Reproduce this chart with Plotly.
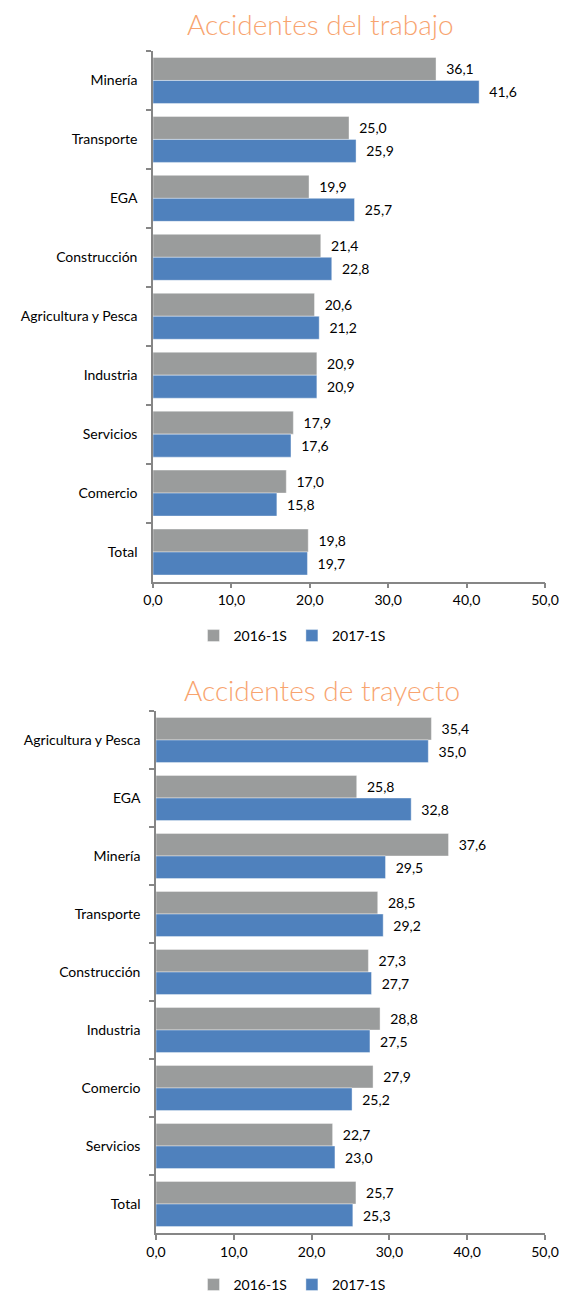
import plotly.graph_objects as go

# ---- data ----
cats_trabajo = ["Minería", "Transporte", "EGA", "Construcción", "Agricultura y Pesca",
                "Industria", "Servicios", "Comercio", "Total"]
trabajo_2016 = [36.1, 25.0, 19.9, 21.4, 20.6, 20.9, 17.9, 17.0, 19.8]
trabajo_2017 = [41.6, 25.9, 25.7, 22.8, 21.2, 20.9, 17.6, 15.8, 19.7]

cats_trayecto = ["Agricultura y Pesca", "EGA", "Minería", "Transporte", "Construcción",
                 "Industria", "Comercio", "Servicios", "Total"]
trayecto_2016 = [35.4, 25.8, 37.6, 28.5, 27.3, 28.8, 27.9, 22.7, 25.7]
trayecto_2017 = [35.0, 32.8, 29.5, 29.2, 27.7, 27.5, 25.2, 23.0, 25.3]

series_names = ["2016-1S", "2017-1S"]
x_ticks = [0, 10, 20, 30, 40, 50]
titles = ["Accidentes del trabajo", "Accidentes de trayecto"]

# ---- styles ----
W, H = 568, 1293
GREY = "#9A9C9C"
BLUE = "#4F81BD"
AXIS = "#868686"
FONT = "Lato"
TITLE_COLOR = "#F8A46F"

fig = go.Figure()

def add_pair(cats, v16, v17, xa, ya, legend):
    for name, vals, col in [(series_names[0], v16, GREY), (series_names[1], v17, BLUE)]:
        fig.add_trace(go.Bar(
            y=cats, x=vals, name=name, orientation="h",
            marker=dict(color=col, line=dict(color="rgba(255,255,255,0.5)", width=0.8)),
            texttemplate="\u00a0\u00a0%{x:.1f}", textposition="outside",
            textfont=dict(family=FONT, size=14, color="#000000"),
            constraintext="none", cliponaxis=False,
            xaxis=xa, yaxis=ya, legend=legend, hoverinfo="skip",
        ))

add_pair(cats_trabajo, trabajo_2016, trabajo_2017, "x", "y", "legend")
add_pair(cats_trayecto, trayecto_2016, trayecto_2017, "x2", "y2", "legend2")

def px_y(p):
    return 1 - p / H

xaxis_common = dict(
    range=[0, 50], tickvals=x_ticks, tickformat=".1f", automargin=False,
    showgrid=False, zeroline=False, showline=True, linecolor=AXIS, linewidth=1.5,
    ticks="outside", ticklen=5, tickcolor=AXIS, tickwidth=1.5,
    tickfont=dict(family=FONT, size=14, color="#000000"), fixedrange=True,
)
yaxis_common = dict(
    autorange="reversed", showgrid=False, zeroline=False, showline=True,
    automargin=False,
    linecolor=AXIS, linewidth=1.5, ticks="outside", tickson="boundaries",
    ticklen=5, tickcolor=AXIS, tickwidth=1.5, ticklabelstandoff=11,
    tickfont=dict(family=FONT, size=14, color="#000000"), fixedrange=True,
)

legend_common = dict(
    orientation="h", xanchor="center", yanchor="middle", x=292 / W,
    font=dict(family=FONT, size=14, color="#000000"), bgcolor="rgba(0,0,0,0)",
    itemwidth=30, tracegroupgap=0, traceorder="normal",
)

fig.update_layout(
    width=W, height=H, autosize=False,
    margin=dict(l=0, r=0, t=0, b=0, pad=0, autoexpand=False),
    paper_bgcolor="white", plot_bgcolor="white",
    separators=",.", barmode="group", bargap=0.22, bargroupgap=0,
    font=dict(family=FONT, size=14, color="#000000"),
    xaxis=dict(xaxis_common, domain=[153 / W, 545 / W], anchor="y"),
    yaxis=dict(yaxis_common, domain=[px_y(581.5), px_y(51)], anchor="x"),
    xaxis2=dict(xaxis_common, domain=[156 / W, 545 / W], anchor="y2"),
    yaxis2=dict(yaxis_common, domain=[px_y(1233), px_y(711)], anchor="x2"),
    legend=dict(legend_common, y=px_y(636)),
    legend2=dict(legend_common, y=px_y(1285)),
    annotations=[
        dict(text=titles[0], x=320 / W, y=px_y(24), xref="paper", yref="paper",
             showarrow=False, xanchor="center", yanchor="middle",
             font=dict(family=FONT, size=28, color=TITLE_COLOR, weight=300)),
        dict(text=titles[1], x=322 / W, y=px_y(690), xref="paper", yref="paper",
             showarrow=False, xanchor="center", yanchor="middle",
             font=dict(family=FONT, size=28, color=TITLE_COLOR, weight=300)),
    ],
)

fig.write_html(
    "out.html",
    config={"responsive": False, "displayModeBar": False},
    post_script="document.body.style.margin='0';document.body.style.overflow='hidden';",
)
